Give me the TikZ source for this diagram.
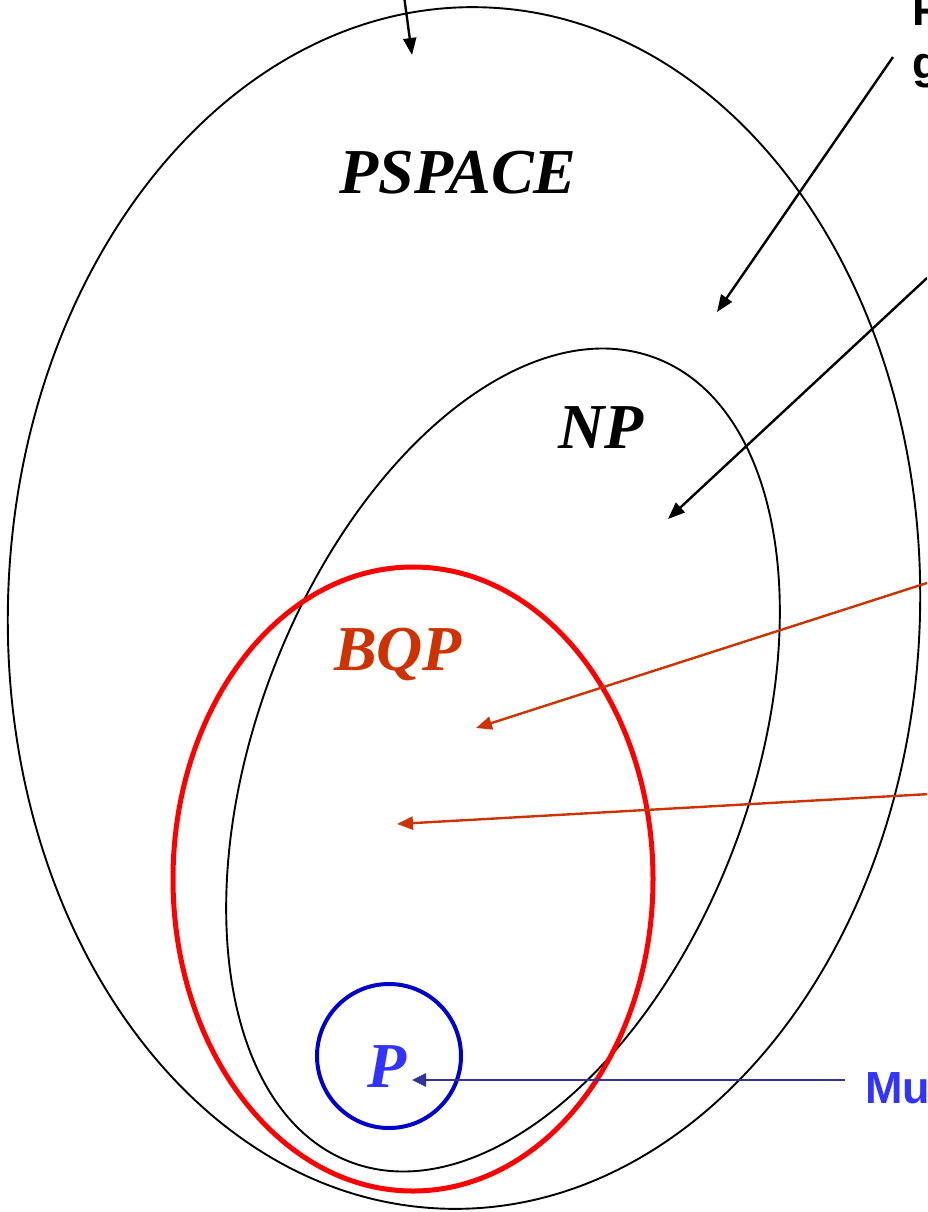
\documentclass[tikz,border=0pt]{standalone}
\usepackage{fontspec}
\setmainfont{Liberation Serif}
\newfontfamily\arialfont{Liberation Sans}
\usetikzlibrary{arrows.meta}
\definecolor{bqpcol}{HTML}{CC3300}
\definecolor{bqpring}{HTML}{FF0000}
\definecolor{pring}{HTML}{0000CC}
\definecolor{ptext}{HTML}{3333FF}
\definecolor{parrow}{HTML}{333399}
\begin{document}
\begin{tikzpicture}[x=1pt,y=-1pt,
  setline/.style={draw=black, line width=1.9pt},
  classlabel/.style={font=\fontsize{64}{70}\selectfont\bfseries\itshape, anchor=base, inner sep=0pt},
  sidetext/.style={font=\arialfont\fontsize{45}{52}\selectfont\bfseries, anchor=base west, inner sep=0pt},
  blackarrow/.style={-{Triangle[length=17pt,width=13pt]}, line width=2.4pt, draw=black},
  redarrow/.style={-{Triangle[length=16pt,width=13pt]}, line width=2.4pt, draw=bqpcol},
  bluearrow/.style={-{Triangle[length=14pt,width=13pt]}, line width=2.8pt, draw=parrow}
]
\useasboundingbox (0,0) rectangle (927,1212);
\clip (0,0) rectangle (927,1212);
\fill[white] (0,0) rectangle (927,1212);

% sets
\draw[setline, rotate around={-2:(464,608)}] (464,608) ellipse [x radius=456pt, y radius=601pt];
\draw[setline, rotate around={-20.8:(503,760)}] (503,760) ellipse [x radius=247pt, y radius=430pt];
\draw[draw=bqpring, line width=5pt] (413,879) ellipse [x radius=240pt, y radius=312pt];
\draw[draw=pring, line width=4pt] (389,1056) ellipse [x radius=72pt, y radius=72pt];

% labels
\node[classlabel] (pspace) at (458,193) {PSPACE};
\node[classlabel] (np) at (601,448) {NP};
\node[classlabel, text=bqpcol] (bqp) at (398,670) {BQP};
\node[classlabel, text=ptext] (p) at (387,1087) {P};

% partial side texts (cut off at the right edge, as in the reference)
\node[sidetext] (textF) at (912,26) {F};
\node[sidetext] (textg) at (912,79) {g};
\node[sidetext, text=ptext] (textMu) at (865,1103) {Mu};

% arrow endpoints
\coordinate (a1s) at (404,-4);
\coordinate (a1e) at (412,55);
\coordinate (a2s) at (893,57);
\coordinate (a2e) at (717,312);
\coordinate (a3s) at (927,278);
\coordinate (a3e) at (668,519);
\coordinate (a4s) at (930,582);
\coordinate (a4e) at (476,728);
\coordinate (a5s) at (930,794);
\coordinate (a5e) at (397,824);
\coordinate (a6s) at (845,1080);
\coordinate (a6e) at (412,1080);

\draw[blackarrow] (a1s) -- (a1e);
\draw[blackarrow] (a2s) -- (a2e);
\draw[blackarrow] (a3s) -- (a3e);
\draw[redarrow] (a4s) -- (a4e);
\draw[redarrow] (a5s) -- (a5e);
\draw[bluearrow] (a6s) -- (a6e);
\end{tikzpicture}
\end{document}
